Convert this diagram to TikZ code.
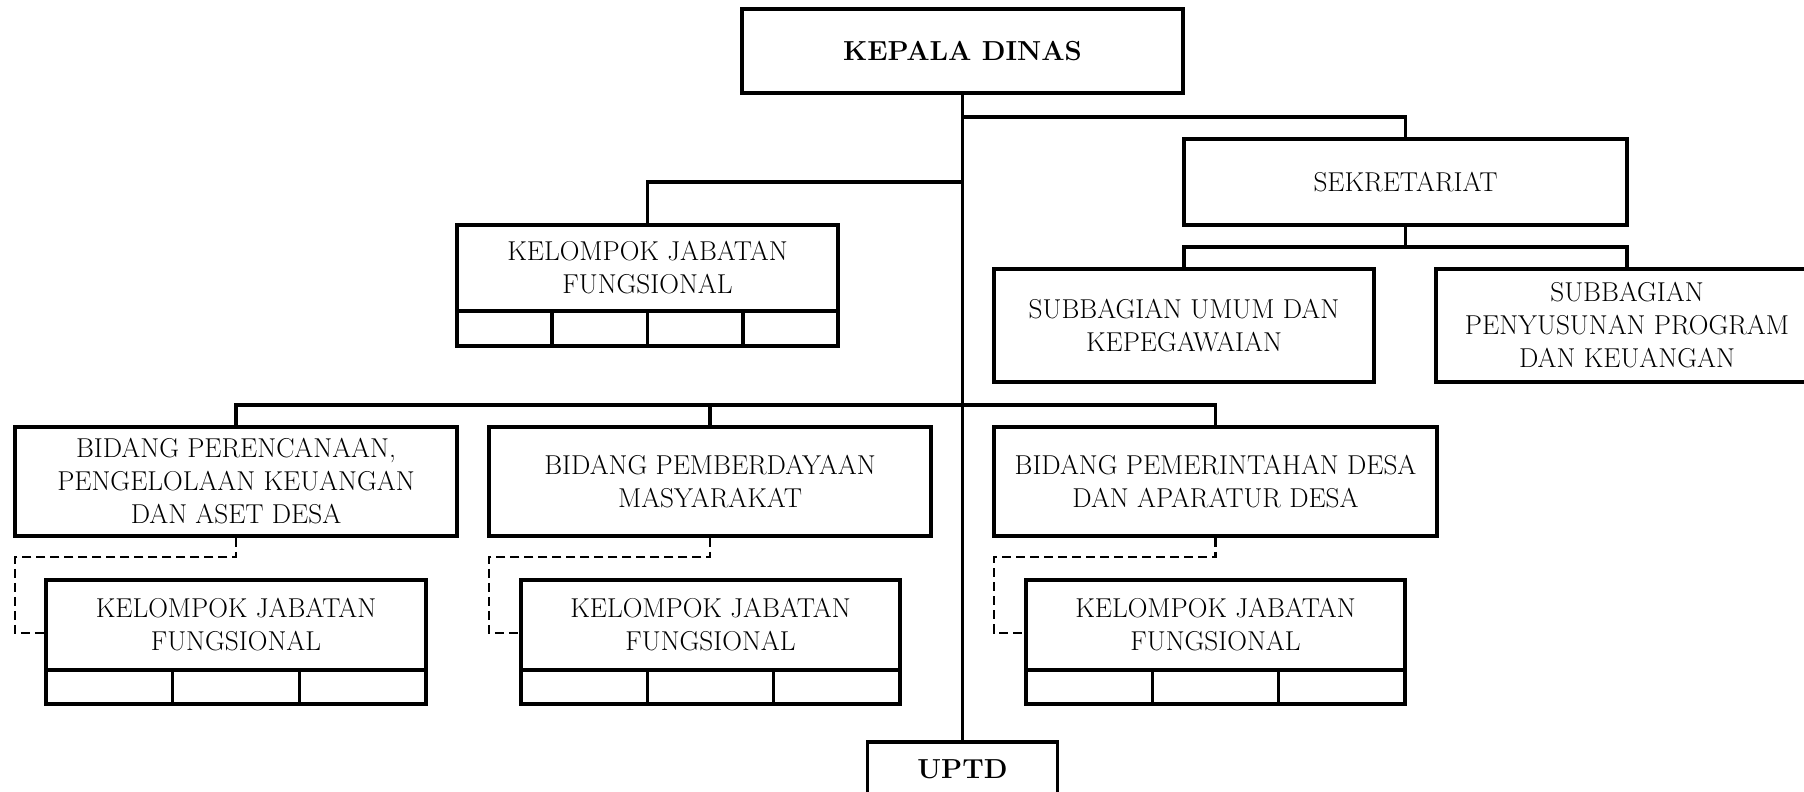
\documentclass[tikz,border=0pt]{standalone}
\usetikzlibrary{calc}
\begin{document}
\begin{tikzpicture}[x=1pt,y=-1pt,
  box/.style={draw, line width=3.5pt, inner sep=0pt, align=center,
    font=\fontsize{27.3}{33}\selectfont},
  boldbox/.style={box, font=\fontsize{27.5}{33}\selectfont\bfseries},
  cell/.style={draw, line width=3.5pt, inner sep=0pt},
  conn/.style={line width=3.5pt},
  dconn/.style={line width=2.5pt, dash pattern=on 9pt off 5pt}]
\useasboundingbox (0,0) rectangle (1804,792);

% top level
\node[boldbox, minimum width=441pt, minimum height=84pt] (kepala) at (962.5,51) {KEPALA DINAS};
\node[box, minimum width=443pt, minimum height=86pt] (sek) at (1405.5,182) {SEKRETARIAT};
\node[box, minimum width=380pt, minimum height=113pt] (subumum) at (1184,325.5) {SUBBAGIAN UMUM DAN\\KEPEGAWAIAN};
\node[box, minimum width=382pt, minimum height=113pt] (subprog) at (1627,325.5) {SUBBAGIAN\\PENYUSUNAN PROGRAM\\DAN KEUANGAN};

% kelompok jabatan fungsional (top)
\node[box, minimum width=381pt, minimum height=86pt] (kjf0) at (647.5,268) {KELOMPOK JABATAN\\FUNGSIONAL};
\node[cell, minimum width=95.25pt, minimum height=35pt] (k0a) at (504.6,328.5) {};
\node[cell, minimum width=95.25pt, minimum height=35pt] (k0b) at (599.9,328.5) {};
\node[cell, minimum width=95.25pt, minimum height=35pt] (k0c) at (695.1,328.5) {};
\node[cell, minimum width=95.25pt, minimum height=35pt] (k0d) at (790.4,328.5) {};

% bidang
\node[box, minimum width=442pt, minimum height=109pt] (b1) at (236,481.5) {BIDANG PERENCANAAN,\\PENGELOLAAN KEUANGAN\\DAN ASET DESA};
\node[box, minimum width=442pt, minimum height=109pt] (b2) at (710,481.5) {BIDANG PEMBERDAYAAN\\MASYARAKAT};
\node[box, minimum width=443pt, minimum height=109pt] (b3) at (1215.5,481.5) {BIDANG PEMERINTAHAN DESA\\DAN APARATUR DESA};

% kelompok jabatan fungsional (lower)
\node[box, minimum width=380pt, minimum height=90pt] (kjf1) at (236,625) {KELOMPOK JABATAN\\FUNGSIONAL};
\node[cell, minimum width=126.67pt, minimum height=34pt] (k1a) at (109.3,687) {};
\node[cell, minimum width=126.67pt, minimum height=34pt] (k1b) at (236,687) {};
\node[cell, minimum width=126.67pt, minimum height=34pt] (k1c) at (362.7,687) {};

\node[box, minimum width=379pt, minimum height=90pt] (kjf2) at (710.5,625) {KELOMPOK JABATAN\\FUNGSIONAL};
\node[cell, minimum width=126.33pt, minimum height=34pt] (k2a) at (584.2,687) {};
\node[cell, minimum width=126.33pt, minimum height=34pt] (k2b) at (710.5,687) {};
\node[cell, minimum width=126.33pt, minimum height=34pt] (k2c) at (836.8,687) {};

\node[box, minimum width=379pt, minimum height=90pt] (kjf3) at (1215.5,625) {KELOMPOK JABATAN\\FUNGSIONAL};
\node[cell, minimum width=126.33pt, minimum height=34pt] (k3a) at (1089.2,687) {};
\node[cell, minimum width=126.33pt, minimum height=34pt] (k3b) at (1215.5,687) {};
\node[cell, minimum width=126.33pt, minimum height=34pt] (k3c) at (1341.8,687) {};

% UPTD
\node[boldbox, minimum width=190pt, minimum height=54pt] (uptd) at (962.5,769) {UPTD};

% junctions
\coordinate (j1) at (962.5,117);
\coordinate (j2) at (962.5,182);
\coordinate (j3) at (962.5,405);
\coordinate (s1) at (1405.5,247);

% solid connectors
\draw[conn] (kepala.south) -- (uptd.north);
\draw[conn] (j1) -| (sek.north);
\draw[conn] (j2) -| (kjf0.north);
\draw[conn] (sek.south) -- (s1);
\draw[conn] (subumum.north) |- (s1) -| (subprog.north);
\draw[conn] (b1.north) |- (j3) -| (b3.north);
\draw[conn] (b2.north) -- (b2.north |- j3);

% dashed connectors
\coordinate (d1) at (15,557);
\coordinate (e1) at (15,633);
\coordinate (d2) at (489,557);
\coordinate (e2) at (489,633);
\coordinate (d3) at (994,557);
\coordinate (e3) at (994,633);
\draw[dconn] (b1.south) |- (d1) -- (e1) -- (kjf1.west |- e1);
\draw[dconn] (b2.south) |- (d2) -- (e2) -- (kjf2.west |- e2);
\draw[dconn] (b3.south) |- (d3) -- (e3) -- (kjf3.west |- e3);
\end{tikzpicture}
\end{document}
